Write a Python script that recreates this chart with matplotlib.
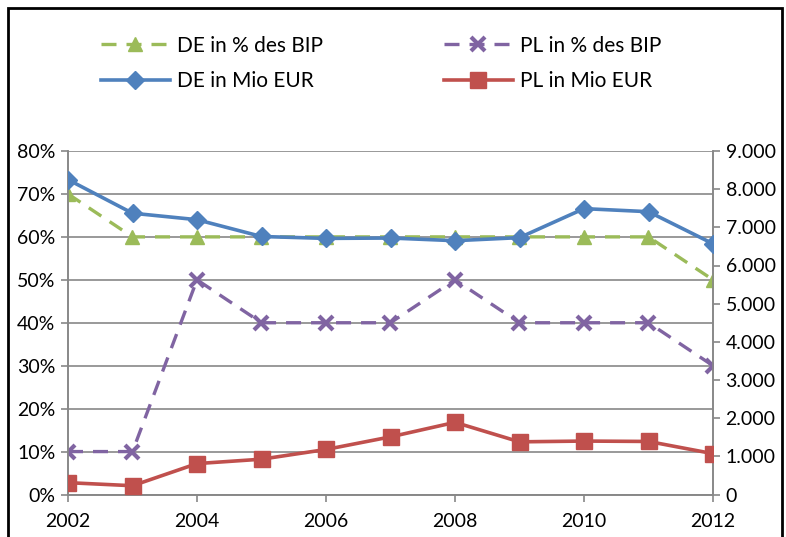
import matplotlib
matplotlib.use('Agg')
import matplotlib.pyplot as plt
from matplotlib.ticker import FuncFormatter

plt.rcParams['font.family'] = ['Lato', 'DejaVu Sans']

years = [2002, 2003, 2004, 2005, 2006, 2007, 2008, 2009, 2010, 2011, 2012]
de_pct = [70, 60, 60, 60, 60, 60, 60, 60, 60, 60, 50]
pl_pct = [10, 10, 50, 40, 40, 40, 50, 40, 40, 40, 30]
de_mio = [8250, 7370, 7200, 6760, 6710, 6720, 6650, 6730, 7490, 7410, 6570]
pl_mio = [310, 230, 810, 925, 1180, 1510, 1890, 1380, 1400, 1390, 1070]

grey = '#888888'
fig = plt.figure(figsize=(7.86, 5.37), dpi=100)
ax = fig.add_axes([68/786, 1-494.5/537, (713-68)/786, (494.5-151)/537])
ax2 = ax.twinx()

dash = (0, (4.5, 3))
ax.plot(years, de_pct, color='#9BBB59', lw=2.4, ls=dash, marker='^', ms=10, label='DE in % des BIP', zorder=3)
ax.plot(years, pl_pct, color='#8064A2', lw=2.4, ls=dash, marker='x', ms=10, mew=3, label='PL in % des BIP', zorder=3)
ax2.plot(years, de_mio, color='#4F81BD', lw=2.6, marker='D', ms=9, label='DE in Mio EUR', zorder=4)
ax2.plot(years, pl_mio, color='#C0504D', lw=2.6, marker='s', ms=11, label='PL in Mio EUR', zorder=4)

ax.set_xlim(2002, 2012)
ax.set_ylim(0, 80)
ax2.set_ylim(0, 9000)
ax.set_yticks(range(0, 81, 10))
ax2.set_yticks(range(0, 9001, 1000))
ax.yaxis.set_major_formatter(FuncFormatter(lambda v, p: f'{int(v)}%'))
ax2.yaxis.set_major_formatter(FuncFormatter(lambda v, p: f'{int(v):,}'.replace(',', '.')))
ax.set_xticks(range(2002, 2013, 2))
ax.grid(axis='y', color=grey, lw=1.2)
ax.set_axisbelow(True)

for a in (ax, ax2):
    a.spines['top'].set_visible(False)
    for s in ('left', 'right', 'bottom'):
        a.spines[s].set_color(grey)
        a.spines[s].set_linewidth(1.2)
    a.tick_params(colors=grey, labelcolor='black', labelsize=14, length=5, width=1.2)
ax.tick_params(axis='x', pad=8)
ax.tick_params(axis='y', pad=4)
ax2.tick_params(axis='y', pad=4)

h1, l1 = ax.get_legend_handles_labels()
h2, l2 = ax2.get_legend_handles_labels()
handles = [h1[0], h2[0], h1[1], h2[1]]
labels = [l1[0], l2[0], l1[1], l2[1]]
fig.legend(handles, labels, ncol=2, loc='center', bbox_to_anchor=(0.485, 0.882),
           frameon=False, fontsize=15, handlelength=3.3, columnspacing=5.8,
           labelspacing=0.75, handletextpad=0.35)

# outer chart border
fig.add_artist(plt.Rectangle((8/786, -0.05), (782-8)/786, 1.05 - 8/537, transform=fig.transFigure,
                             fill=False, ec='black', lw=2))

fig.savefig('out.png', dpi=100)
